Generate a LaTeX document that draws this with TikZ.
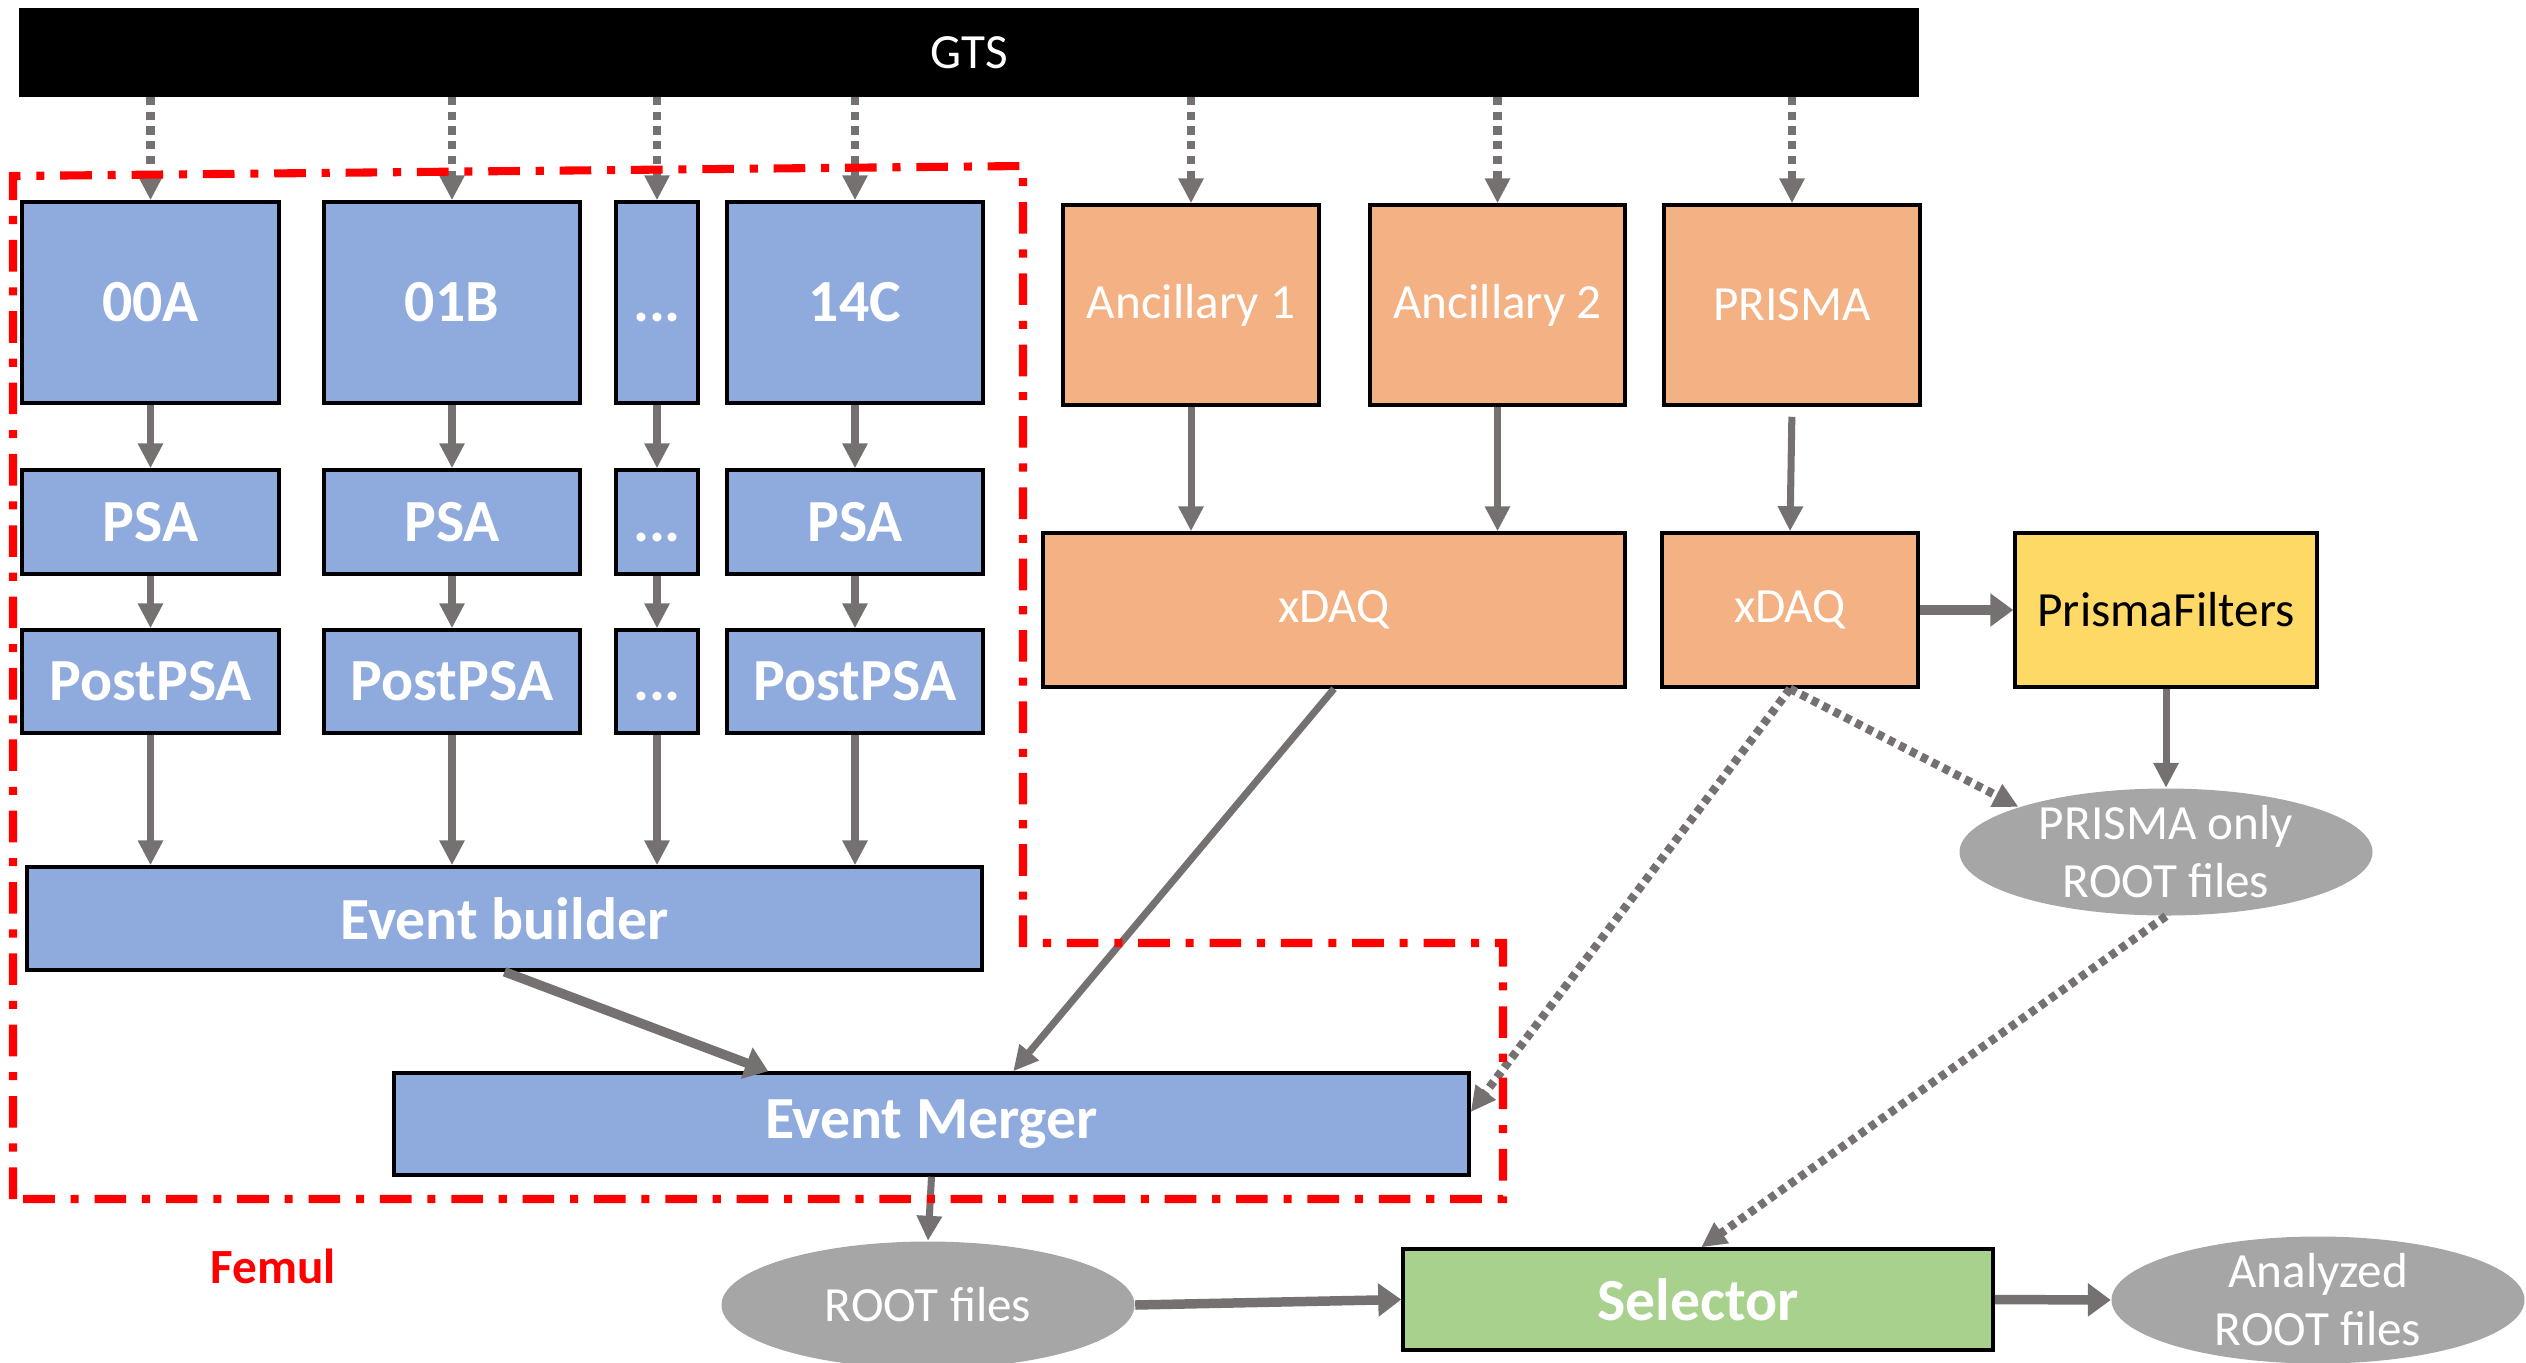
\documentclass[tikz,border=0pt]{standalone}
\usepackage{fontspec}
\setmainfont{Carlito}
\usetikzlibrary{arrows.meta,shapes.geometric}
\definecolor{boxblue}{HTML}{8FAADC}
\definecolor{boxorange}{HTML}{F4B183}
\definecolor{boxyellow}{HTML}{FFD966}
\definecolor{boxgreen}{HTML}{A9D18E}
\definecolor{filegray}{HTML}{A6A6A6}
\definecolor{arrowgray}{HTML}{767171}

\begin{document}
\begin{tikzpicture}[
    box/.style={draw=black, line width=1pt, inner sep=0pt, text=white},
    det/.style={box, fill=boxblue, font=\fontsize{17}{20}\selectfont\bfseries},
    anc/.style={box, fill=boxorange, font=\fontsize{14}{17}\selectfont},
    rootfile/.style={ellipse, fill=filegray, text=white, inner xsep=0pt, inner ysep=-4pt,
        align=center, font=\fontsize{14}{16.5}\selectfont, minimum width=4.13cm, minimum height=1.27cm},
    flow/.style={draw=arrowgray, line width=2pt, -{Triangle[length=0.25cm,width=0.24cm]}},
    bigflow/.style={draw=arrowgray, line width=2.7pt, -{Triangle[length=0.23cm,width=0.32cm]}},
    sync/.style={flow, line width=2.4pt, dash pattern=on 2.4pt off 1.8pt},
    dotflow/.style={flow, line width=2.4pt, dash pattern=on 2pt off 1.5pt}
]
    \useasboundingbox (0,0) rectangle (25.26,-13.62);
    \clip (0,0) rectangle (25.26,-13.62);

    % time stamp bar
    \node[box, fill=black, font=\fontsize{14}{17}\selectfont, minimum width=18.96cm, minimum height=0.85cm] (gts) at (9.69,-0.525) {GTS};

    % detector crystals
    \node[det, minimum width=2.57cm, minimum height=2.01cm] (a00) at (1.505,-3.025) {00A};
    \node[det, minimum width=2.56cm, minimum height=2.01cm] (b01) at (4.52,-3.025) {01B};
    \node[det, minimum width=0.82cm, minimum height=2.01cm] (cdots) at (6.57,-3.025) {\vphantom{0A}...};
    \node[det, minimum width=2.56cm, minimum height=2.01cm] (c14) at (8.55,-3.025) {14C};

    \node[det, minimum width=2.57cm, minimum height=1.04cm] (psa1) at (1.505,-5.22) {PSA};
    \node[det, minimum width=2.56cm, minimum height=1.04cm] (psa2) at (4.52,-5.22) {PSA};
    \node[det, minimum width=0.82cm, minimum height=1.04cm] (psa3) at (6.57,-5.22) {\vphantom{0A}...};
    \node[det, minimum width=2.56cm, minimum height=1.04cm] (psa4) at (8.55,-5.22) {PSA};

    \node[det, minimum width=2.57cm, minimum height=1.03cm] (post1) at (1.505,-6.815) {PostPSA};
    \node[det, minimum width=2.56cm, minimum height=1.03cm] (post2) at (4.52,-6.815) {PostPSA};
    \node[det, minimum width=0.82cm, minimum height=1.03cm] (post3) at (6.57,-6.815) {\vphantom{0A}...};
    \node[det, minimum width=2.56cm, minimum height=1.03cm] (post4) at (8.55,-6.815) {PostPSA};

    \node[det, minimum width=9.55cm, minimum height=1.03cm] (evb) at (5.045,-9.185) {Event builder};
    \node[det, minimum width=10.75cm, minimum height=1.02cm] (merger) at (9.315,-11.24) {Event Merger};

    % ancillary side
    \node[anc, minimum width=2.56cm, minimum height=2.0cm] (anc1) at (11.91,-3.05) {Ancillary 1};
    \node[anc, minimum width=2.55cm, minimum height=2.0cm] (anc2) at (14.975,-3.05) {Ancillary 2};
    \node[anc, minimum width=2.56cm, minimum height=2.0cm] (prisma) at (17.92,-3.05) {PRISMA};
    \node[anc, minimum width=5.82cm, minimum height=1.54cm] (xdaq) at (13.34,-6.10) {xDAQ};
    \node[anc, minimum width=2.56cm, minimum height=1.54cm] (xdaqp) at (17.90,-6.10) {xDAQ};
    \node[box, fill=boxyellow, text=black, font=\fontsize{14}{17}\selectfont, minimum width=3.02cm, minimum height=1.54cm] (filters) at (21.66,-6.10) {PrismaFilters};

    % output files
    \node[rootfile] (pronly) at (21.66,-8.52) {PRISMA only\\ROOT files};
    \node[rootfile] (rootf) at (9.28,-13.05) {ROOT files};
    \node[box, fill=boxgreen, font=\fontsize{17}{20}\selectfont\bfseries, minimum width=5.90cm, minimum height=1.01cm] (selector) at (16.98,-12.995) {Selector};
    \node[rootfile] (analyzed) at (23.18,-13.0) {Analyzed\\ROOT files};

    \node[text=red, font=\fontsize{14}{17}\selectfont\bfseries] (femul) at (2.73,-12.66) {Femul};

    % clock distribution
    \foreach \n in {a00,b01,cdots,c14,anc1,anc2,prisma}
        \draw[sync] (gts.south -| \n.north) -- (\n.north);

    % data flow
    \foreach \a/\b in {a00/psa1,b01/psa2,cdots/psa3,c14/psa4,psa1/post1,psa2/post2,psa3/post3,psa4/post4}
        \draw[flow] (\a.south) -- (\b.north);
    \foreach \a in {post1,post2,post3,post4}
        \draw[flow] (\a.south) -- (\a.south |- evb.north);
    \draw[flow] (anc1.south) -- (anc1.south |- xdaq.north);
    \draw[flow] (anc2.south) -- (anc2.south |- xdaq.north);
    \draw[flow, shorten <=0.1cm] (prisma.south) -- (xdaqp.north);
    \draw[bigflow] (evb.south) -- ([xshift=3.76cm]merger.north west);
    \draw[flow] (xdaq.south) -- ([xshift=6.21cm]merger.north west);
    \draw[dotflow] (xdaqp.south) -- ([yshift=0.12cm]merger.east);
    \draw[dotflow] (xdaqp.south) -- (pronly.163);
    \draw[bigflow] (xdaqp.east) -- (filters.west);
    \draw[flow] (filters.south) -- (pronly.north);
    \draw[dotflow] (pronly.south) -- ([xshift=3.0cm]selector.north west);
    \draw[flow] (merger.south) -- (rootf.north);
    \draw[bigflow] (rootf.east) -- (selector.west);
    \draw[bigflow] (selector.east) -- (analyzed.west);

    % Femul boundary
    \draw[red, line width=2.3pt, dash pattern=on 9pt off 4.5pt on 2.3pt off 4.5pt]
        (0.13,-11.99) -- (0.13,-1.76) -- (10.23,-1.66) -- (10.23,-9.43) -- (15.03,-9.43) -- (15.03,-11.99) -- cycle;
\end{tikzpicture}
\end{document}
